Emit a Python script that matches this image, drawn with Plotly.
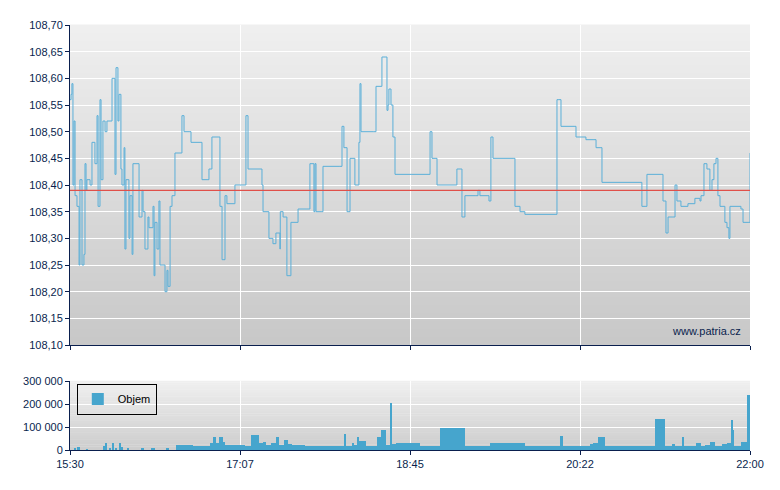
import plotly.graph_objects as go

# price series: minutes after 15:30, price
p_min = [0,0.6,1.1,1.7,2.3,2.9,4.0,5.2,5.7,6.9,8.0,8.6,9.2,9.7,11.5,12.6,14.3,15.5,16.1,17.2,17.8,18.9,20.1,21.2,23.5,24.1,25.2,25.8,26.4,27.5,28.1,29.2,29.8,31.0,31.5,32.1,33.3,33.8,34.4,35.6,36.1,39.0,39.6,41.3,41.9,43.0,44.7,45.3,47.6,48.2,48.7,49.9,51.0,51.6,53.3,54.5,55.6,56.2,57.4,58.5,60.2,63.7,64.2,65.4,68.8,69.4,75.1,75.7,78.6,79.7,80.9,81.4,85.4,86.0,87.2,88.3,88.9,90.0,94.1,94.6,100.4,100.9,102.1,108.4,110.1,110.7,113.6,114.1,116.4,117.6,118.1,119.9,120.4,120.6,122.2,123.3,124.4,126.2,126.7,130.2,130.8,135.9,137.6,138.8,139.9,140.5,141.1,144.5,145.1,154.8,156.0,157.1,158.9,160.0,160.6,162.9,163.4,165.2,165.7,166.3,166.9,174.3,175.5,178.4,178.9,181.2,181.8,182.4,182.9,184.1,185.2,186.4,196.1,206.5,207.6,209.9,210.5,220.8,221.9,224.8,226.5,232.8,234.0,235.1,239.7,240.3,241.4,242.6,254.1,255.2,258.1,259.8,260.9,278.7,279.3,280.4,281.6,289.6,290.2,294.8,295.9,300.5,301.7,304.0,305.1,326.9,328.0,330.3,330.9,339.5,340.1,341.8,343.0,345.8,347.0,348.1,350.4,354.4,358.4,361.3,361.9,363.6,365.3,367.0,368.2,369.3,370.5,371.6,372.8,375.6,376.8,377.9,378.5,384.8,386.0,389.4,390]
p_val = [108.56,108.57,108.59,108.40,108.52,108.38,108.36,108.25,108.41,108.25,108.27,108.44,108.39,108.41,108.40,108.48,108.44,108.53,108.36,108.56,108.41,108.52,108.50,108.52,108.52,108.60,108.60,108.42,108.62,108.52,108.57,108.43,108.40,108.47,108.28,108.41,108.41,108.30,108.38,108.27,108.44,108.44,108.34,108.39,108.35,108.28,108.34,108.32,108.36,108.23,108.33,108.28,108.37,108.25,108.25,108.20,108.24,108.21,108.36,108.38,108.46,108.46,108.53,108.50,108.50,108.48,108.48,108.41,108.41,108.43,108.43,108.49,108.49,108.36,108.26,108.26,108.38,108.365,108.365,108.40,108.40,108.53,108.43,108.43,108.40,108.35,108.35,108.30,108.29,108.29,108.31,108.31,108.28,108.35,108.34,108.34,108.23,108.23,108.33,108.33,108.355,108.355,108.44,108.44,108.35,108.44,108.35,108.35,108.435,108.435,108.51,108.47,108.35,108.35,108.45,108.45,108.40,108.40,108.48,108.59,108.50,108.50,108.585,108.585,108.64,108.64,108.54,108.55,108.58,108.55,108.49,108.42,108.42,108.50,108.45,108.45,108.40,108.40,108.43,108.34,108.38,108.38,108.39,108.38,108.38,108.37,108.49,108.45,108.45,108.36,108.35,108.35,108.345,108.345,108.56,108.56,108.51,108.51,108.49,108.49,108.485,108.485,108.47,108.47,108.405,108.405,108.36,108.36,108.42,108.42,108.37,108.31,108.34,108.34,108.40,108.37,108.36,108.365,108.375,108.37,108.38,108.44,108.43,108.39,108.41,108.44,108.45,108.38,108.36,108.33,108.32,108.30,108.36,108.355,108.33,108.33,108.46]
ref_price = 108.39

# volume blocks: start minute, end minute, volume (thousands)
v_start = [2.5,4.5,9.5,19,20.5,22.5,24.2,26,28.2,29.8,33,41,46.5,55,60.8,70.3,80.3,82,84,85.5,87.5,89,94.6,100.4,104,108.5,110.5,112.5,115.5,118,120,121.5,123,125,127.5,134.8,157.4,158,162,163,165,165.5,169.5,176,178.5,181,183.7,184.5,187,200.8,212,226.6,240.9,242.5,261,281,283,298,300,303,307,335.6,341.3,345,347,351,351.6,359,362,364,367,370,374,377,379.5,380,381,385,388.5]
v_end = [3.5,5.5,10.5,20,21.5,23.5,25.2,27,29.2,30.6,34,42.5,49,57,70.3,80.3,82,84,85.5,87.5,89,94.6,100.4,104,108.5,110.5,112.5,115.5,118,120,121.5,123,125,127.5,134.8,157,157.9,162,163,165,165.5,169.5,176,178.5,181,183.5,184.1,187,200.8,212,226.6,240.9,242.5,261,281,283,298,300,303,307,335.6,341.3,345,347,351,351.6,359,362,364,367,370,374,377,379.5,380,381,385,388.5,390]
v_val = [8,12,3,18,28,10,30,8,30,14,10,5,10,5,20,15,30,55,30,55,35,20,20,15,65,30,35,20,30,55,20,20,45,25,20,15,70,15,30,20,55,40,15,55,85,20,205,25,30,15,95,15,30,30,15,60,15,25,30,55,15,135,15,25,15,55,15,30,15,20,35,15,25,30,130,85,15,35,240]

tick_vals = [0, 97.5, 195, 292.5, 390]
tick_text = ["15:30", "17:07", "18:45", "20:22", "22:00"]

navy = "#0a1f4e"
fig = go.Figure()
fig.add_trace(go.Scatter(x=p_min, y=p_val, mode="lines", line=dict(color="#5aafd8", width=1, shape="hv"),
                         showlegend=False, xaxis="x", yaxis="y"))
fig.add_trace(go.Scatter(x=[0, 390], y=[ref_price, ref_price], mode="lines",
                         line=dict(color="#e0504a", width=1.2), showlegend=False, xaxis="x", yaxis="y"))
fig.add_trace(go.Bar(x=[(a + b) / 2 for a, b in zip(v_start, v_end)],
                     width=[max(b - a, 0.5) for a, b in zip(v_start, v_end)],
                     y=[v * 1000 for v in v_val], marker=dict(color="#46a5cd", line=dict(width=0)),
                     name="Objem", xaxis="x2", yaxis="y2"))

shapes = []
n = 40
for dom, col0, col1 in [((0.247, 1.0), 240, 200), ((0.0, 0.162), 240, 205)]:
    for i in range(n):
        y0 = dom[0] + (dom[1] - dom[0]) * i / n
        y1 = dom[0] + (dom[1] - dom[0]) * (i + 1) / n
        c = int(col1 + (col0 - col1) * (i + 0.5) / n)
        shapes.append(dict(type="rect", xref="paper", yref="paper", x0=0, x1=1, y0=y0, y1=y1 + 0.001,
                           fillcolor=f"rgb({c},{c},{c})", line=dict(width=0), layer="below"))

ax = dict(range=[0, 390], tickvals=tick_vals, showgrid=True, gridcolor="white", gridwidth=1,
          showline=True, linecolor=navy, ticks="outside", tickcolor=navy, ticklen=4, zeroline=False)
fig.update_layout(
    width=780, height=490, margin=dict(l=62, r=38, t=17, b=48),
    paper_bgcolor="white", plot_bgcolor="rgba(0,0,0,0)", separators=", ",
    font=dict(family="Liberation Sans", size=11, color=navy),
    shapes=shapes, bargap=0,
    xaxis=dict(ax, domain=[0, 1], anchor="y", showticklabels=False),
    xaxis2=dict(ax, domain=[0, 1], anchor="y2", ticktext=tick_text),
    yaxis=dict(domain=[0.247, 1], range=[108.10, 108.70], dtick=0.05, tickformat=".2f",
               showgrid=True, gridcolor="white", showline=True, linecolor=navy,
               ticks="outside", tickcolor=navy, ticklen=4, zeroline=False),
    yaxis2=dict(domain=[0, 0.162], range=[0, 300000], dtick=100000, tickformat=",d",
                showgrid=True, gridcolor="white", showline=True, linecolor=navy,
                ticks="outside", tickcolor=navy, ticklen=4, zeroline=False),
    showlegend=True,
    legend=dict(x=0.01, y=0.12, xanchor="left", yanchor="middle", bgcolor="rgba(0,0,0,0)",
                bordercolor="black", borderwidth=1, font=dict(size=11, color="black"),
                itemwidth=30),
    annotations=[dict(text="www.patria.cz", xref="paper", yref="paper", x=0.99, y=0.262,
                      xanchor="right", yanchor="bottom", showarrow=False, font=dict(size=11, color=navy))],
)
fig.write_html("out.html")
